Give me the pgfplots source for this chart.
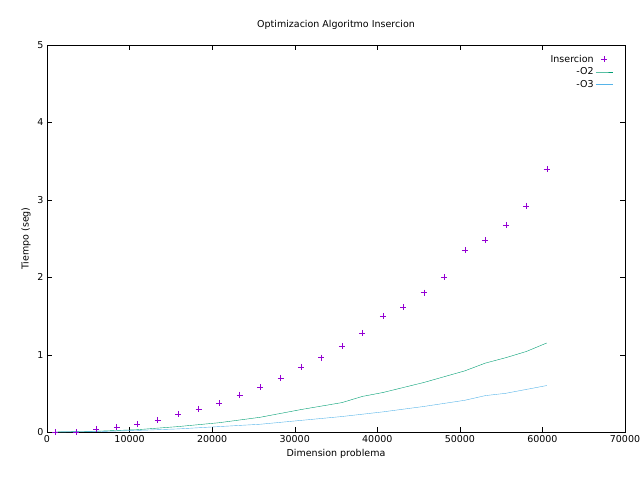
\documentclass[border=0pt]{standalone}
\usepackage{pgfplots}
\pgfplotsset{compat=1.18}
\usepackage{fontspec}
\setmainfont{DejaVu Sans}
\definecolor{c1}{HTML}{9400D3}
\definecolor{c2}{HTML}{009E73}
\definecolor{c3}{HTML}{56B4E9}
\begin{document}
\begin{tikzpicture}
\path[use as bounding box] (0,0) rectangle (640pt,480pt);
\begin{axis}[
  at={(47pt,48pt)}, anchor=south west,
  width=578pt, height=387pt, scale only axis,
  xmin=0, xmax=70000, ymin=0, ymax=5,
  xtick={0,10000,...,70000}, ytick={0,1,...,5},
  scaled x ticks=false,
  /pgf/number format/assume math mode=true,
  xticklabel style={/pgf/number format/1000 sep={}},
  tick align=inside, tick style={black},
  major tick length=5pt,
  font=\fontsize{9.5}{11}\selectfont,
  title={Optimizacion Algoritmo Insercion}, title style={yshift=6pt},
  xlabel={Dimension problema}, ylabel={Tiempo (seg)},
  legend style={draw=none, fill=none, at={(0.985,0.985)}, anchor=north east, font=\fontsize{9.5}{11}\selectfont},
  legend cell align=right,
  legend plot pos=right,
]
\addplot[only marks, color=c1, mark=+, mark size=3pt, mark options={color=c1}] coordinates {
(1000,0)(3480,0)(5960,0.04)(8440,0.06)(10920,0.10)(13400,0.15)(15880,0.23)(18360,0.30)(20840,0.37)(23320,0.48)(25800,0.58)(28280,0.70)(30760,0.84)(33240,0.96)(35720,1.11)(38200,1.28)(40680,1.50)(43160,1.61)(45640,1.80)(48120,2.00)(50600,2.35)(53080,2.48)(55560,2.67)(58040,2.92)(60520,3.40)};
\addlegendentry{Insercion}
\addplot[color=c2, thin, no marks] coordinates {
(1000,0)(5960,0.01)(10920,0.03)(15880,0.07)(20840,0.12)(25800,0.19)(30760,0.29)(35720,0.38)(38200,0.46)(40680,0.51)(45640,0.64)(50600,0.79)(53080,0.89)(55560,0.96)(58040,1.04)(60520,1.15)};
\addlegendentry{-O2}
\addplot[color=c3, thin, no marks] coordinates {
(1000,0)(5960,0.005)(10920,0.02)(15880,0.04)(20840,0.07)(25800,0.10)(30760,0.15)(35720,0.20)(40680,0.26)(45640,0.33)(50600,0.41)(53080,0.47)(55560,0.50)(58040,0.55)(60520,0.60)};
\addlegendentry{-O3}
\end{axis}
\end{tikzpicture}
\end{document}
